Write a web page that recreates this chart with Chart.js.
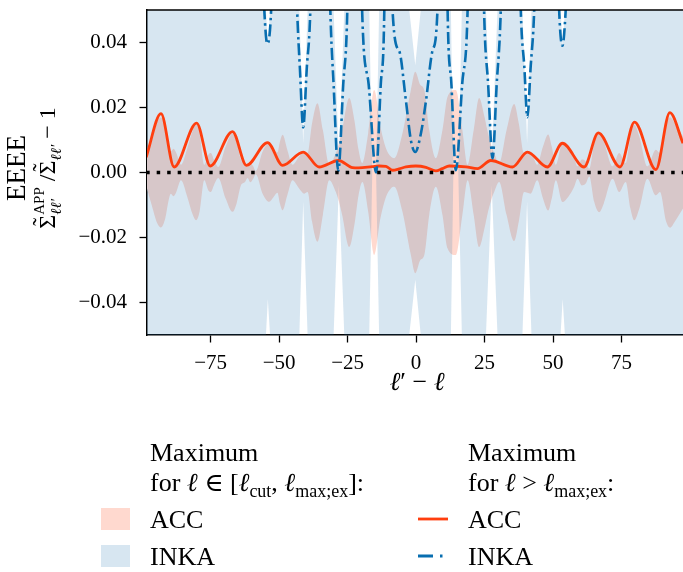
<!DOCTYPE html>
<html>
<head>
<meta charset="utf-8">
<script src="https://cdn.jsdelivr.net/npm/chart.js@4.4.1/dist/chart.umd.min.js"></script>
<style>
  html, body { margin: 0; padding: 0; background: #fff; }
  #wrap { width: 683px; height: 572px; }
</style>
</head>
<body>
<div id="wrap"><canvas id="chart" width="683" height="572"></canvas></div>
<script>
/* Relative deviation of the approximated covariance vs. l' - l.
   Shaded bands: maximum over l in [l_cut, l_max;ex] (symmetric +/-),
   lines: maximum for l > l_max;ex. */

const xTicks = [-75, -50, -25, 0, 25, 50, 75];
const yTicks = [-0.04, -0.02, 0.00, 0.02, 0.04];

// ACC band half-width (filled between -w and +w)
const accBandL = [-98.5, -96.5, -94.5, -93.1, -91.5, -90.3, -89.5, -88.5, -87.5, -85.8,
  -83.5, -81.5, -80.3, -79, -77.3, -75.8, -74.9, -73.8, -72.2, -69.5,
  -67.0, -65.5, -63.9, -62.5, -61.5, -60.5, -59.5, -58.5, -56, -53.6,
  -52, -50.6, -49.7, -48.7, -47, -45.1, -42.7, -40.8, -39.6, -38,
  -36.0, -34, -31.7, -29.3, -28.3, -27, -24.4, -22.5, -21, -19.6,
  -17.5, -15.3, -13.0, -11, -9.2, -8.0, -5.0, -2.0, -0.3, 1.5,
  3.0, 4.8, 7.2, 9.6, 11.5, 14.5, 16.9, 18.8, 21, 23.0,
  25, 26, 27.4, 28.5, 30.3, 33, 35.8, 37.5, 39.4, 41.8,
  44.2, 46.3, 48.2, 49.5, 51.0, 53.4, 55.5, 57.7, 58.9, 60.5,
  61.9, 63.2, 65, 66.8, 68.5, 71.7, 74.1, 76.5, 78.2, 79.6,
  81.5, 84.4, 87.5, 89.0, 91.2, 92.7, 94.5, 97.4];
const accBandW = [0.0040, 0.0100, 0.0155, 0.0169, 0.0140, 0.0085, 0.0065, 0.0073, 0.0060, 0.0024,
  0.0075, 0.0130, 0.0147, 0.0120, 0.0024, 0.0055, 0.0060, 0.0040, 0.0017, 0.0080,
  0.0121, 0.0095, 0.0039, 0.0030, 0.0017, 0.0030, 0.0020, 0.0005, 0.0065, 0.0090,
  0.0075, 0.0062, 0.0095, 0.0116, 0.0070, 0.0024, 0.0049, 0.0065, 0.0060, 0.0150,
  0.0213, 0.0130, 0.0024, 0.0060, 0.0085, 0.0130, 0.0229, 0.0160, 0.0070, 0.0029,
  0.0120, 0.0254, 0.0140, 0.0075, 0.0049, 0.0044, 0.0120, 0.0250, 0.0310, 0.0270,
  0.0254, 0.0131, 0.0044, 0.0130, 0.0234, 0.0254, 0.0130, 0.0024, 0.0130, 0.0229,
  0.0170, 0.0130, 0.0085, 0.0060, 0.0029, 0.0130, 0.0211, 0.0150, 0.0060, 0.0065,
  0.0024, 0.0080, 0.0117, 0.0080, 0.0024, 0.0091, 0.0075, 0.0044, 0.0019, 0.0040,
  0.0034, 0.0012, 0.0090, 0.0122, 0.0095, 0.0019, 0.0060, 0.0029, 0.0110, 0.0147,
  0.0110, 0.0019, 0.0070, 0.0060, 0.0150, 0.0170, 0.0150, 0.0111];

// INKA band half-width (very wide except for narrow dips)
const inkaBandL = [-98.5, -54.8, -54.1, -53.3, -48, -42.6, -41.2, -39.6, -35, -30.1,
  -28.2, -26.2, -22, -17.1, -16.0, -14.6, -13.5, -8, -2.5, -0.3,
  1.7, 7, 12.7, 13.6, 15.4, 16.7, 21, 25.5, 27.6, 29.7,
  34, 38.8, 40.5, 42.1, 47, 52.7, 53.5, 54.3, 60, 97.4];
const inkaBandW = [0.2, 0.05, 0.039, 0.05, 0.2, 0.05, 0.009, 0.05, 0.2, 0.05,
  0.004, 0.05, 0.2, 0.05, 0.0, 0.0, 0.05, 0.2, 0.05, 0.033,
  0.05, 0.2, 0.05, 0.0, 0.0, 0.05, 0.2, 0.05, 0.004, 0.05,
  0.2, 0.05, 0.009, 0.05, 0.2, 0.05, 0.039, 0.05, 0.2, 0.2];

// ACC maximum for l > l_max;ex
const accLineL = [-98.5, -93.1, -88.3, -80.1, -75.1, -67.0, -61.9, -54.2, -48.7, -41.2,
  -35.4, -28.3, -23.2, -21, -16, -13.5, -11, -8.6, -6.2, -3.7,
  -0.1, 3.6, 7.2, 9.6, 12.1, 18.2, 22.4, 27.3, 35.2, 40.6,
  47.9, 53.4, 61.3, 66.5, 74.4, 79.7, 87.5, 92.6, 97.4];
const accLineV = [0.0047, 0.0181, 0.0017, 0.0152, 0.0020, 0.0126, 0.0022, 0.0092, 0.0022, 0.0063,
  0.0017, 0.0037, 0.0015, 0.0014, 0.0018, 0.0020, 0.0019, 0.0007, 0.0011, 0.0017,
  0.0020, 0.0016, 0.0005, 0.0012, 0.0020, 0.0017, 0.0012, 0.0037, 0.0017, 0.0063,
  0.0017, 0.0090, 0.0017, 0.0122, 0.0017, 0.0155, 0.0009, 0.0184, 0.0090];

// INKA maximum for l > l_max;ex (mostly above the plotted range)
const inkaLineL = [-98.5, -62, -55.4, -54.3, -52.9, -48, -43.4, -42.4, -41.2, -39.9,
  -38.6, -35, -31.3, -30.1, -28.4, -26.6, -25.1, -22.4, -19.7, -17.3,
  -14.6, -12.9, -11.6, -10, -8.6, -6.2, -3.7, -1.9, -0.3, 1.75,
  3.6, 6.0, 7.8, 9.6, 11.5, 12.9, 14.5, 16.8, 18.8, 21.8,
  24.8, 26.3, 27.9, 29.4, 30.9, 34.6, 38.2, 39.5, 40.6, 41.8,
  43.1, 47.6, 52.2, 53.4, 54.6, 62, 97.4];
const inkaLineV = [0.3, 0.2, 0.05, 0.0396, 0.05, 0.2, 0.05, 0.032, 0.0139, 0.032,
  0.05, 0.2, 0.05, 0.027, 0.0005, 0.027, 0.05, 0.2, 0.05, 0.027,
  0.0, 0.027, 0.05, 0.2, 0.05, 0.0375, 0.022, 0.0099, 0.0063, 0.012,
  0.022, 0.0375, 0.05, 0.2, 0.05, 0.027, 0.0007, 0.027, 0.05, 0.2,
  0.05, 0.027, 0.0043, 0.027, 0.05, 0.2, 0.05, 0.0324, 0.017, 0.0324,
  0.05, 0.2, 0.05, 0.039, 0.05, 0.2, 0.3];

const zeroL = [-98.5, 97.4];
const zeroV = [0, 0];

const SERIF = "'Liberation Serif', 'DejaVu Serif', 'Times New Roman', serif";
const COL_ACC = "rgb(255,62,14)";
const COL_INKA = "rgb(8,110,176)";
const FILL_ACC = "rgb(255,217,207)";
const FILL_INKA = "rgba(31,119,180,0.18)";
const DASHDOT = [12, 4, 2.5, 4];

const pts = (xs, ys, s = 1) => xs.map((x, i) => ({ x, y: s * ys[i] }));
const minus = (s) => s.replace('-', '\u2212');

// --- small helpers for drawing text with sub/superscripts ---
function fnt(size, it) { return (it ? 'italic ' : '') + size + 'px ' + SERIF; }
function runW(ctx, r) {
  if (r.stack) return Math.max(...r.stack.map(s => runW(ctx, s)));
  ctx.font = fnt(r.size, r.it);
  return ctx.measureText(r.t).width;
}
function drawRun(ctx, r, x, y) {
  ctx.font = fnt(r.size, r.it);
  ctx.fillText(r.t, x, y + (r.dy || 0));
  if (r.tilde) {
    const w = ctx.measureText(r.t).width;
    ctx.fillText('\u02DC', x + w / 2 - ctx.measureText('\u02DC').width / 2, y - r.size * 0.27);
  }
}
function drawRuns(ctx, runs, x, y) {
  for (const r of runs) {
    if (r.stack) r.stack.forEach(s => drawRun(ctx, s, x, y));
    else drawRun(ctx, r, x, y);
    x += runW(ctx, r);
  }
  return x;
}
function runsW(ctx, runs) { return runs.reduce((a, r) => a + runW(ctx, r), 0); }

const decor = {
  id: 'decor',
  afterDraw(chart) {
    const ctx = chart.ctx;
    const a = chart.chartArea;
    ctx.save();
    // top spine
    ctx.strokeStyle = '#000';
    ctx.lineWidth = 1.5;
    ctx.beginPath();
    ctx.moveTo(a.left - 0.75, a.top);
    ctx.lineTo(a.right, a.top);
    ctx.stroke();

    ctx.fillStyle = '#000';
    ctx.textBaseline = 'alphabetic';
    ctx.textAlign = 'left';

    // x label
    const xl = [
      { t: '\u2113', size: 26, it: true },
      { t: '\u2032', size: 26 },
      { t: ' \u2212 ', size: 26 },
      { t: '\u2113', size: 26, it: true }
    ];
    drawRuns(ctx, xl, 417 - runsW(ctx, xl) / 2, 390);

    // y label, two lines, rotated
    const yl1 = [{ t: 'EEEE', size: 27 }];
    const yl2 = [
      { t: '\u03A3', size: 24, tilde: true },
      { stack: [{ t: 'APP', size: 15, dy: -11 }, { t: '\u2113\u2113\u2032', size: 15, it: true, dy: 6 }] },
      { t: ' /', size: 24 },
      { t: '\u03A3', size: 24, tilde: true },
      { t: '\u2113\u2113\u2032', size: 15, it: true, dy: 6 },
      { t: ' \u2212 1', size: 24 }
    ];
    ctx.save();
    ctx.translate(25, 168);
    ctx.rotate(-Math.PI / 2);
    drawRuns(ctx, yl1, -runsW(ctx, yl1) / 2, 0);
    ctx.restore();
    ctx.save();
    ctx.translate(55, 168);
    ctx.rotate(-Math.PI / 2);
    drawRuns(ctx, yl2, -runsW(ctx, yl2) / 2, 0);
    ctx.restore();

    // legend
    const L = 26, S = 18, SD = 6;
    drawRuns(ctx, [{ t: 'Maximum', size: L }], 150, 461);
    drawRuns(ctx, [
      { t: 'for ', size: L }, { t: '\u2113', size: L, it: true }, { t: ' \u2208 [', size: L },
      { t: '\u2113', size: L, it: true }, { t: 'cut', size: S, dy: SD }, { t: ', ', size: L },
      { t: '\u2113', size: L, it: true }, { t: 'max;ex', size: S, dy: SD }, { t: ']:', size: L }
    ], 150, 491);
    drawRuns(ctx, [{ t: 'ACC', size: L }], 150, 528);
    drawRuns(ctx, [{ t: 'INKA', size: L }], 150, 565);

    drawRuns(ctx, [{ t: 'Maximum', size: L }], 468, 461);
    drawRuns(ctx, [
      { t: 'for ', size: L }, { t: '\u2113', size: L, it: true }, { t: ' > ', size: L },
      { t: '\u2113', size: L, it: true }, { t: 'max;ex', size: S, dy: SD }, { t: ':', size: L }
    ], 468, 491);
    drawRuns(ctx, [{ t: 'ACC', size: L }], 468, 528);
    drawRuns(ctx, [{ t: 'INKA', size: L }], 468, 565);

    // legend handles
    ctx.fillStyle = FILL_ACC;
    ctx.fillRect(101, 508, 29, 22);
    ctx.fillStyle = FILL_INKA;
    ctx.fillRect(101, 545, 29, 22);

    ctx.lineWidth = 2.8;
    ctx.strokeStyle = COL_ACC;
    ctx.beginPath(); ctx.moveTo(418, 519); ctx.lineTo(448, 519); ctx.stroke();
    ctx.strokeStyle = COL_INKA;
    ctx.setLineDash([15, 7, 2.5, 7]);
    ctx.beginPath(); ctx.moveTo(418, 556); ctx.lineTo(448, 556); ctx.stroke();
    ctx.restore();
  }
};

const band = (xs, ws, color, mode) => ([
  { data: pts(xs, ws), fill: '+1', backgroundColor: color, borderWidth: 0, pointRadius: 0,
    cubicInterpolationMode: mode, tension: 0, clip: 0 },
  { data: pts(xs, ws, -1), fill: false, backgroundColor: color, borderWidth: 0, pointRadius: 0,
    cubicInterpolationMode: mode, tension: 0, clip: 0 }
]);

const accB = band(accBandL, accBandW, FILL_ACC, 'monotone');
const inkaB = band(inkaBandL, inkaBandW, FILL_INKA, 'default');
accB.forEach(d => d.order = 6);
inkaB.forEach(d => d.order = 5);

new Chart(document.getElementById('chart'), {
  type: 'line',
  data: {
    datasets: [
      ...accB,
      ...inkaB,
      { data: pts(accLineL, accLineV), borderColor: COL_ACC, borderWidth: 2.8, pointRadius: 0,
        cubicInterpolationMode: 'monotone', fill: false, clip: 0, order: 3 },
      { data: pts(inkaLineL, inkaLineV), borderColor: COL_INKA, borderWidth: 2.6, pointRadius: 0,
        borderDash: DASHDOT, cubicInterpolationMode: 'monotone', fill: false, clip: 0, order: 2 },
      { data: pts(zeroL, zeroV), borderColor: '#000', borderWidth: 3.5, pointRadius: 0,
        borderDash: [3.5, 7], borderCapStyle: 'butt', fill: false, clip: 0, order: 1 }
    ]
  },
  options: {
    responsive: false,
    animation: false,
    events: [],
    layout: { padding: { top: 10, right: 0, bottom: 177, left: 0 } },
    plugins: { legend: { display: false }, tooltip: { enabled: false } },
    scales: {
      x: {
        type: 'linear', min: -98.2, max: 97.4,
        afterFit: (s) => { s.height = 60; s.paddingLeft = 0; s.paddingRight = 0; },
        afterBuildTicks: (s) => { s.ticks = xTicks.map(v => ({ value: v })); },
        grid: { display: true, drawOnChartArea: false, tickLength: 7.5, tickWidth: 1.3, tickColor: '#000' },
        border: { display: true, color: '#000', width: 1.5 },
        ticks: { color: '#000', padding: 8, maxRotation: 0, font: { family: SERIF, size: 21 },
          callback: (v) => minus(String(v)) }
      },
      y: {
        type: 'linear', min: -0.05, max: 0.05,
        afterFit: (s) => { s.width = 147; s.paddingTop = 0; s.paddingBottom = 0; },
        afterBuildTicks: (s) => { s.ticks = yTicks.map(v => ({ value: v })); },
        grid: { display: true, drawOnChartArea: false, tickLength: 7.5, tickWidth: 1.3, tickColor: '#000' },
        border: { display: true, color: '#000', width: 1.5 },
        ticks: { color: '#000', padding: 12.5, font: { family: SERIF, size: 21 },
          callback: (v) => minus(v.toFixed(2)) }
      }
    }
  },
  plugins: [decor]
});
</script>
</body>
</html>
